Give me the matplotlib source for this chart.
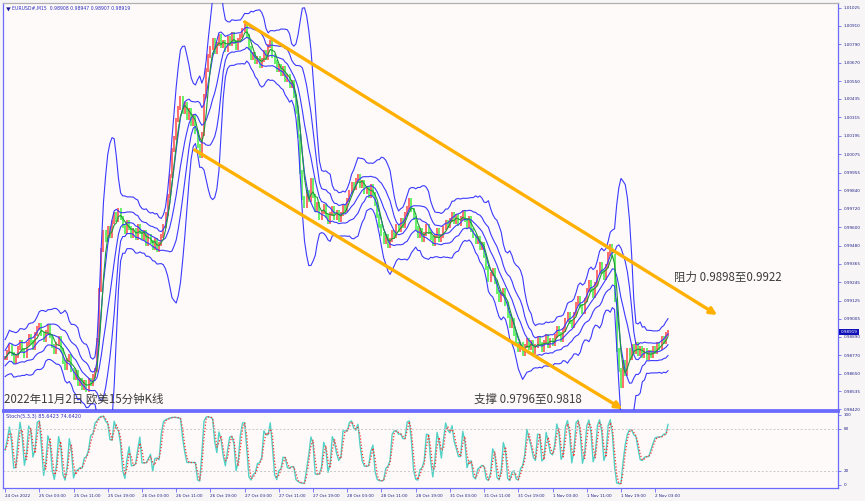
import numpy as np
import pandas as pd
import matplotlib
matplotlib.use("Agg")
import matplotlib.pyplot as plt
import matplotlib.transforms as mtransforms

plt.rcParams['font.family'] = ['Noto Sans CJK SC', 'DejaVu Sans']

# EURUSD closes, one value per 30 minutes from 24 Oct 19:00
closes = [
    0.98751, 0.98790, 0.98829, 0.98777, 0.98725, 0.98764, 0.98816, 0.98855, 0.98803, 0.98764, 0.98842, 0.98894, 0.98855, 0.98816, 0.98907, 0.98946,
    0.98966, 0.98907, 0.98868, 0.98920, 0.98959, 0.98894, 0.98829, 0.98790, 0.98842, 0.98881, 0.98803, 0.98725, 0.98686, 0.98738, 0.98764, 0.98673,
    0.98622, 0.98661, 0.98583, 0.98609, 0.98557, 0.98596, 0.98544, 0.98609, 0.98583, 0.98635, 0.98673, 0.98868, 0.99193, 0.99453, 0.99570, 0.99518,
    0.99596, 0.99544, 0.99635, 0.99687, 0.99648, 0.99713, 0.99661, 0.99609, 0.99570, 0.99635, 0.99596, 0.99544, 0.99583, 0.99531, 0.99609, 0.99570,
    0.99531, 0.99570, 0.99492, 0.99544, 0.99505, 0.99466, 0.99518, 0.99453, 0.99492, 0.99544, 0.99609, 0.99687, 0.99804, 0.99934, 1.00103, 1.00180,
    1.00297, 1.00375, 1.00440, 1.00349, 1.00401, 1.00310, 1.00362, 1.00271, 1.00323, 1.00219, 1.00128, 1.00064, 1.00206, 1.00453, 1.00622, 1.00713,
    1.00765, 1.00817, 1.00739, 1.00791, 1.00843, 1.00778, 1.00804, 1.00752, 1.00830, 1.00791, 1.00856, 1.00804, 1.00765, 1.00817, 1.00843, 1.00882,
    1.00908, 1.00843, 1.00765, 1.00700, 1.00726, 1.00674, 1.00700, 1.00648, 1.00687, 1.00739, 1.00700, 1.00778, 1.00804, 1.00713, 1.00674, 1.00622,
    1.00648, 1.00596, 1.00635, 1.00557, 1.00583, 1.00518, 1.00544, 1.00453, 1.00349, 1.00193, 0.99960, 0.99791, 0.99739, 0.99830, 0.99778, 0.99908,
    0.99804, 0.99713, 0.99752, 0.99661, 0.99700, 0.99739, 0.99674, 0.99635, 0.99687, 0.99726, 0.99661, 0.99700, 0.99648, 0.99687, 0.99739, 0.99713,
    0.99778, 0.99830, 0.99882, 0.99856, 0.99908, 0.99934, 0.99869, 0.99895, 0.99830, 0.99856, 0.99804, 0.99869, 0.99817, 0.99752, 0.99674, 0.99609,
    0.99557, 0.99505, 0.99544, 0.99479, 0.99518, 0.99570, 0.99544, 0.99609, 0.99583, 0.99648, 0.99609, 0.99687, 0.99726, 0.99778, 0.99713, 0.99661,
    0.99596, 0.99544, 0.99583, 0.99518, 0.99557, 0.99609, 0.99570, 0.99531, 0.99492, 0.99544, 0.99583, 0.99518, 0.99544, 0.99596, 0.99635, 0.99609,
    0.99648, 0.99687, 0.99635, 0.99674, 0.99622, 0.99661, 0.99700, 0.99648, 0.99609, 0.99661, 0.99583, 0.99544, 0.99505, 0.99531, 0.99466, 0.99492,
    0.99414, 0.99336, 0.99258, 0.99297, 0.99323, 0.99245, 0.99180, 0.99128, 0.99167, 0.99193, 0.99102, 0.99024, 0.98959, 0.98998, 0.98907, 0.98842,
    0.98803, 0.98842, 0.98777, 0.98829, 0.98868, 0.98816, 0.98855, 0.98790, 0.98829, 0.98881, 0.98842, 0.98803, 0.98855, 0.98894, 0.98829, 0.98868,
    0.98842, 0.98894, 0.98946, 0.98907, 0.98868, 0.98933, 0.98998, 0.99037, 0.98985, 0.98959, 0.99037, 0.99102, 0.99141, 0.99089, 0.99050, 0.99128,
    0.99193, 0.99245, 0.99193, 0.99154, 0.99232, 0.99310, 0.99362, 0.99310, 0.99271, 0.99349, 0.99427, 0.99479, 0.99414, 0.99128, 0.98803, 0.98673,
    0.98570, 0.98725, 0.98648, 0.98803, 0.98751, 0.98829, 0.98790, 0.98842, 0.98777, 0.98816, 0.98764, 0.98803, 0.98751, 0.98790, 0.98764, 0.98816,
    0.98790, 0.98842, 0.98816, 0.98881, 0.98855, 0.98907, 0.98919,
]

time_labels = ["24 Oct 2022", "25 Oct 03:00", "25 Oct 11:00", "25 Oct 19:00", "26 Oct 03:00",
               "26 Oct 11:00", "26 Oct 19:00", "27 Oct 03:00", "27 Oct 11:00", "27 Oct 19:00",
               "28 Oct 03:00", "28 Oct 11:00", "28 Oct 19:00", "31 Oct 03:00", "31 Oct 11:00",
               "31 Oct 19:00", "1 Nov 03:00", "1 Nov 11:00", "1 Nov 19:00", "2 Nov 03:00"]
time_label_idx = [0, 16, 32, 48, 64, 80, 96, 112, 128, 144, 160, 176, 192, 208, 224,
                  240, 256, 272, 288, 304]

price_ticks = [1.01025, 1.00910, 1.00790, 1.00670, 1.00550, 1.00435, 1.00315, 1.00195,
               1.00075, 0.99955, 0.99840, 0.99720, 0.99600, 0.99480, 0.99365, 0.99245,
               0.99125, 0.99005, 0.98890, 0.98770, 0.98650, 0.98535, 0.98420]

# channel lines (time index, price)
resist_t = [112, 333]
resist_p = [1.00934, 0.99031]
support_t = [88.6, 288.7]
support_p = [1.00103, 0.98420]

stoch_ticks = [0, 20, 80, 100]
wick = 0.00014        # rough half-range of the 15-min bars around each body
intrabar_sd = 0.0005  # spread of the 15-min closes hidden inside each 30-min step

# ---- indicators ----
s = pd.Series(closes)
opens = s.shift(1).fillna(s.iloc[0])
highs = np.maximum(opens, s) + wick
lows = np.minimum(opens, s) - wick
mid = s.rolling(10, min_periods=1).mean()
sd = s.rolling(10, min_periods=1).std(ddof=0).fillna(0)
sd = np.sqrt(sd ** 2 + intrabar_sd ** 2)
fast = s.rolling(4, min_periods=1).mean()

lo_n = lows.rolling(3, min_periods=1).min()
hi_n = highs.rolling(3, min_periods=1).max()
kraw = (s - lo_n) / (hi_n - lo_n) * 100
k_line = kraw.rolling(2, min_periods=1).mean()
d_line = k_line.rolling(2, min_periods=1).mean()

idx = np.arange(len(closes))

BG = "#fffafa"
FRAME = "#6b6bff"
LABEL = "#22228a"
BAND = "#3a3aff"
ORANGE = "#ffb000"
TICKFONT = dict(family="DejaVu Sans", fontsize=3.0)

fig = plt.figure(figsize=(8.65, 5.01), dpi=100, facecolor="#f7f5f5")
ax = fig.add_axes([3 / 865, 1 - 410 / 501, 835 / 865, 407 / 501], facecolor=BG)
ax2 = fig.add_axes([3 / 865, 1 - 488 / 501, 835 / 865, 77 / 501], facecolor=BG)

# candles: red up, green down
up = s >= opens
colors = np.where(up, "#ff6262", "#5cf05c")
ax.vlines(idx, lows, highs, colors=colors, linewidth=1.3, zorder=2)

# bands
for kk in (2.4, 1.0, -1.0, -2.4):
    ax.plot(idx, mid + kk * sd, color=BAND, lw=0.8, zorder=3)
ax.plot(idx, mid, color=BAND, lw=0.8, zorder=3)
ax.plot(idx, fast, color="#1f9a3a", lw=0.8, zorder=4)

# channel arrows
for t, p in ((resist_t, resist_p), (support_t, support_p)):
    ax.annotate("", xy=(t[1], p[1]), xytext=(t[0], p[0]),
                arrowprops=dict(arrowstyle="-|>", color=ORANGE, lw=2.4,
                                mutation_scale=10, shrinkA=0, shrinkB=0), zorder=5)

ax.text(313, 0.99275, "阻力 0.9898至0.9922", fontsize=8.3, color="#3c3c3c", va="center")
ax.text(219.5, 0.98485, "支撑 0.9796至0.9818", fontsize=8.3, color="#3c3c3c", va="center")
ax.text(-0.5, 0.98485, "2022年11月2日 欧美15分钟K线", fontsize=8.3, color="#3c3c3c", va="center")
ax.text(0.003, 0.99, "▼", transform=ax.transAxes, fontsize=3.5, color="#1a1a9a", va="top")
ax.text(0.011, 0.992, "EURUSD#,M15  0.98908 0.98947 0.98907 0.98919",
        transform=ax.transAxes, color="#3030c0", va="top", family="DejaVu Sans", fontsize=3.3)

ax.set_xlim(-1, 389.5)
ax.set_ylim(0.98414, 1.01057)
ax.yaxis.tick_right()
ax.set_yticks(price_ticks)
ax.set_yticklabels([f"{v:.5f}" for v in price_ticks], color=LABEL, **TICKFONT)
ax.tick_params(axis="y", length=2.5, width=0.6, color=FRAME, pad=1.5)
ax.set_xticks([])

# current price tag
trans = mtransforms.blended_transform_factory(ax.transAxes, ax.transData)
ax.text(1.003, closes[-1], f"{closes[-1]:.5f}", transform=trans, color="white",
        va="center", ha="left", bbox=dict(boxstyle="square,pad=0.3", fc="#1010b8", ec="none"),
        **TICKFONT)

for name, sp in ax.spines.items():
    sp.set_color(FRAME)
    sp.set_linewidth(0.9)
ax.spines["bottom"].set_linewidth(2.0)
ax.spines["top"].set_color("#b0b0b0")

# stochastic panel
ax2.plot(idx, k_line, color="#52d2c4", lw=1.0)
ax2.plot(idx, d_line, color="#ff3030", lw=0.9, ls=(0, (1, 1.5)))
for lvl in (20, 80):
    ax2.axhline(lvl, color="#c8c8c8", lw=0.7, ls=(0, (2, 2)))
ax2.set_xlim(-1, 389.5)
ax2.set_ylim(-4.3, 105.7)
ax2.yaxis.tick_right()
ax2.set_yticks(stoch_ticks)
ax2.set_yticklabels([str(v) for v in stoch_ticks], color=LABEL, **TICKFONT)
ax2.tick_params(axis="y", length=2.5, width=0.6, color=FRAME, pad=1.5)
ax2.set_xticks(time_label_idx)
ax2.set_xticklabels(time_labels, color=LABEL, ha="left", **TICKFONT)
ax2.tick_params(axis="x", length=3, width=0.6, color=FRAME, pad=1)
ax2.text(0.004, 0.96, "Stoch(5,3,3) 85.6423 74.6420", transform=ax2.transAxes,
         color="#3030c0", va="top", family="DejaVu Sans", fontsize=3.6)
for name, sp in ax2.spines.items():
    sp.set_color(FRAME)
    sp.set_linewidth(0.9)
ax2.spines["top"].set_linewidth(2.0)

fig.savefig("out.png", dpi=100, facecolor=fig.get_facecolor())
